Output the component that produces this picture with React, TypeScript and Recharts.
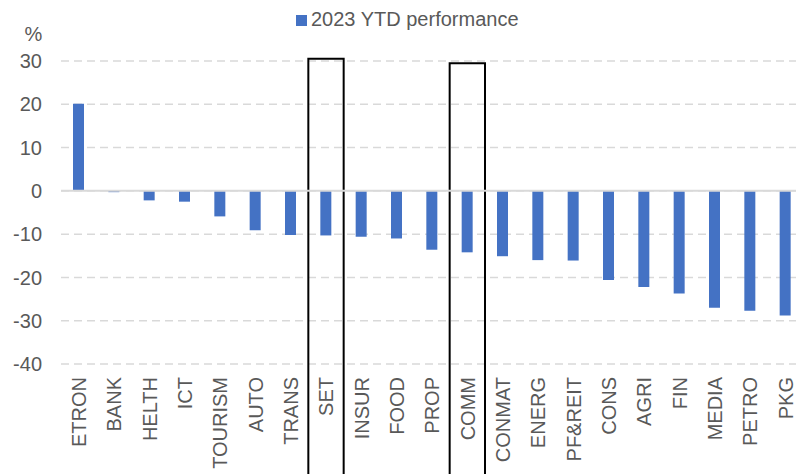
import React from "react"
import {
  BarChart,
  Bar,
  XAxis,
  YAxis,
  CartesianGrid,
  Legend,
  ReferenceLine,
  ReferenceArea,
} from "recharts"

// Sectors, sorted by 2023 YTD performance (%)
const sectors = [
  "ETRON", "BANK", "HELTH", "ICT", "TOURISM", "AUTO", "TRANS", "SET", "INSUR", "FOOD", "PROP",
  "COMM", "CONMAT", "ENERG", "PF&REIT", "CONS", "AGRI", "FIN", "MEDIA", "PETRO", "PKG",
]
const ytdPerformance = [
  20.1, -0.3, -2.2, -2.5, -5.9, -9.1, -10.2, -10.3, -10.6, -11.0, -13.6,
  -14.2, -15.1, -16.0, -16.1, -20.6, -22.2, -23.7, -27.0, -27.7, -28.8,
]
const yTicks = [-40, -30, -20, -10, 0, 10, 20, 30]

// highlighted columns (boxes drawn around them), top value in %
const highlighted = ["SET", "COMM"]
const highlightTop = [30.5, 29.5]
const highlightBottom = -66

const data = sectors.map((name, i) => ({ name, ytd: ytdPerformance[i] }))

const TEXT = "#595959"
const FONT = "'Liberation Sans', Arial, sans-serif"

const SectorTick = (props: any) => {
  const { x, y, payload } = props
  return (
    <text
      x={x}
      y={y}
      transform={`rotate(-90, ${x}, ${y})`}
      textAnchor="end"
      dy="0.36em"
      dx={-5}
      fill={TEXT}
      fontSize={20}
      fontFamily={FONT}
    >
      {payload.value}
    </text>
  )
}

export default function App() {
  return (
    <div style={{ position: "absolute", left: 0, top: 0, width: 796, height: 474, overflow: "hidden", background: "#fff" }}>
      <BarChart
        width={810}
        height={474}
        data={data}
        margin={{ top: 61, right: 7, bottom: 0, left: 0 }}
        barCategoryGap={0}
      >
        <CartesianGrid vertical={false} stroke="#d9d9d9" strokeDasharray="8 5" strokeWidth={1.5} />
        <XAxis
          dataKey="name"
          interval={0}
          axisLine={false}
          tickLine={false}
          height={110}
          tick={<SectorTick />}
        />
        <YAxis
          domain={[-40, 30]}
          ticks={yTicks}
          width={61}
          axisLine={false}
          tickLine={false}
          tickMargin={13}
          tick={{ fill: TEXT, fontSize: 20, fontFamily: FONT }}
          label={{ value: "%", position: "top", offset: 20, dx: 3, fill: TEXT, fontSize: 20, fontFamily: FONT }}
        />
        <Legend
          verticalAlign="middle"
          align="center"
          iconType="square"
          iconSize={11}
          wrapperStyle={{ top: 8, left: 296, width: "auto", fontSize: 20, fontFamily: FONT }}
          formatter={(value) => <span style={{ color: TEXT }}>{value}</span>}
        />
        <ReferenceLine y={0} stroke="#d9d9d9" strokeWidth={2} />
        <Bar
          dataKey="ytd"
          name="2023 YTD performance"
          fill="#4472C4"
          barSize={11}
          isAnimationActive={false}
        />
        {highlighted.map((name, i) => (
          <ReferenceArea
            key={name}
            x1={name}
            x2={name}
            y1={highlightBottom}
            y2={highlightTop[i]}
            fill="none"
            fillOpacity={0}
            stroke="#000"
            strokeWidth={2}
            ifOverflow="visible"
          />
        ))}
      </BarChart>
    </div>
  )
}
